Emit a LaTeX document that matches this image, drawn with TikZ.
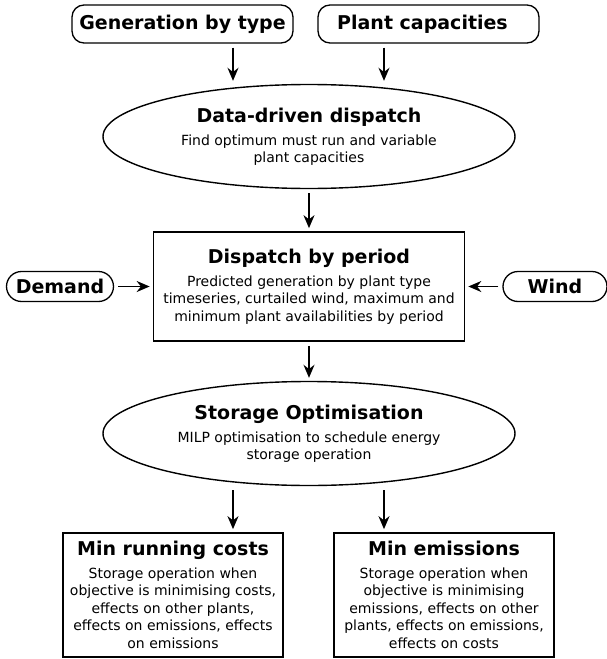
\documentclass[tikz,border=0pt]{standalone}
\usepackage{fontspec}
\setmainfont{DejaVu Sans}
\usepackage{tikz}
\usetikzlibrary{shapes.geometric, arrows}
\usetikzlibrary{arrows.meta}
\newcommand{\heading}{\bfseries\fontsize{19}{22}\selectfont}
\newcommand{\bodytext}{\fontsize{14}{17.5}\selectfont}
\tikzstyle{source} = [rectangle, rounded corners=12pt, minimum width=221pt, minimum height=38pt, text centered, draw=black, line width=1.3pt, font=\heading]
\tikzstyle{method} = [ellipse, minimum width=412pt, minimum height=104pt, inner sep=0pt, align=center, draw=black, line width=1.4pt, font=\bodytext]
\tikzstyle{process} = [rectangle, minimum width=311pt, minimum height=109pt, inner sep=0pt, align=center, draw=black, line width=1.7pt, font=\bodytext]
\tikzstyle{result} = [rectangle, minimum width=220pt, minimum height=124pt, inner sep=0pt, align=center, draw=black, line width=1.7pt, font=\bodytext]
\tikzstyle{arrow} = [line width=1.7pt, -{Stealth[length=13pt,width=11pt]}, shorten <=4pt, shorten >=3pt]

\begin{document}
\begin{tikzpicture}[node distance=150pt]
\useasboundingbox (-309pt,136.5pt) rectangle (297pt,-522.5pt);

\node (dd) [method] {{\heading Data-driven dispatch}\\[5.5pt]Find optimum must run and variable\\plant capacities};
\node (gen) [source, above of=dd, node distance=112.5pt, xshift=-126.5pt] {Generation by type};
\node (plant) [source, above of=dd, node distance=112.5pt, xshift=119.5pt] {Plant capacities\hspace*{12pt}};

\node (period) [process, below of=dd] {{\heading Dispatch by period}\\[5.5pt]Predicted generation by plant type\\timeseries, curtailed wind, maximum and\\minimum plant availabilities by period};
\node (demand) [source, left of=period, node distance=249pt, minimum width=107pt, minimum height=30pt, rounded corners=15pt] {Demand};
\node (wind) [source, right of=period, node distance=246pt, minimum width=104pt, minimum height=30pt, rounded corners=15pt] {Wind};

\node (storage) [method, below of=period, node distance=147pt] {{\heading Storage Optimisation}\\[5.5pt]MILP optimisation to schedule energy\\storage operation};

\node (mincost) [result, below of=storage, node distance=161.5pt, xshift=-136pt] {{\heading Min running costs}\\[5pt]Storage operation when\\objective is minimising costs,\\effects on other plants,\\effects on emissions, effects\\on emissions};
\node (minem) [result, below of=storage, node distance=161.5pt, xshift=135pt] {{\heading Min emissions}\\[5pt]Storage operation when\\objective is minimising\\emissions, effects on other\\plants, effects on emissions,\\effects on costs};

\draw[arrow] ([xshift=50.5pt]gen.south) -- ([xshift=50.5pt]gen.south |- dd.north);
\draw[arrow] ([xshift=-44.5pt]plant.south) -- ([xshift=-44.5pt]plant.south |- dd.north);
\draw[arrow] (dd.south) -- (period.north);
\draw[arrow] (demand.east) -- (period.west);
\draw[arrow] (wind.west) -- (period.east);
\draw[arrow] (period.south) -- (storage.north);
\draw[arrow] ([xshift=-76pt]storage.south) -- ([xshift=-76pt]storage.south |- mincost.north);
\draw[arrow] ([xshift=75pt]storage.south) -- ([xshift=75pt]storage.south |- minem.north);

\end{tikzpicture}
\end{document}
